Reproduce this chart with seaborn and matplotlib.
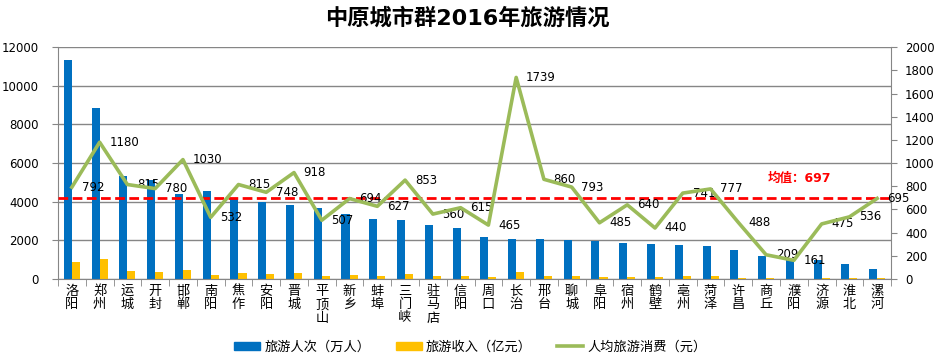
import seaborn as sns
import matplotlib.pyplot as plt
import numpy as np
import pandas as pd
from matplotlib.patches import Patch
from matplotlib.lines import Line2D

cities = ["洛阳", "郑州", "运城", "开封", "邯郸", "南阳", "焦作", "安阳", "晋城", "平顶山",
          "新乡", "蚌埠", "三门峡", "驻马店", "信阳", "周口", "长治", "邢台", "聊城", "阜阳",
          "宿州", "鹤壁", "亳州", "菏泽", "许昌", "商丘", "濮阳", "济源", "淮北", "漯河"]
visitors = [11350, 8850, 5320, 5110, 4400, 4560, 4150, 3980, 3840, 3700,
            3340, 3130, 3030, 2770, 2660, 2190, 2090, 2090, 2030, 1980,
            1880, 1820, 1760, 1710, 1500, 1190, 980, 1000, 780, 520]
income = [900, 1050, 430, 380, 480, 225, 330, 280, 330, 175,
          225, 175, 270, 170, 170, 110, 370, 170, 165, 90,
          120, 80, 130, 130, 75, 30, 20, 45, 40, 35]
spend = [792, 1180, 815, 780, 1030, 532, 815, 748, 918, 507,
         694, 627, 853, 560, 615, 465, 1739, 860, 793, 485,
         640, 440, 741, 777, 488, 209, 161, 475, 536, 695]
mean_spend = 697

names = ["旅游人次（万人）", "旅游收入（亿元）", "人均旅游消费（元）"]
blue, yellow, green, grey = "#0070C0", "#FFC000", "#9BBB59", "#868686"

plt.rcParams['font.family'] = ['DejaVu Sans', 'Noto Sans CJK SC']

df = pd.DataFrame({
    "城市": cities * 2,
    "数值": visitors + income,
    "指标": [names[0]] * len(cities) + [names[1]] * len(cities),
})

fig = plt.figure(figsize=(9.35, 3.6), dpi=100)
ax = fig.add_axes([0.062, 0.225, 0.891, 0.644])

sns.barplot(data=df, x="城市", y="数值", hue="指标", palette=[blue, yellow],
            width=0.58, saturation=1, legend=False, ax=ax, zorder=2)
ax.set_ylim(0, 12000)
ax.set_yticks(range(0, 12001, 2000))
ax.yaxis.grid(True, color=grey, lw=1)
ax.set_axisbelow(True)
ax.set_xlabel("")
ax.set_ylabel("")
ax.set_xticks(range(len(cities)))
ax.set_xticklabels(["\n".join(c) for c in cities], fontsize=9.5, linespacing=1.05,
                   family=['Noto Sans CJK SC'])
ax.set_xticks(np.arange(-0.5, len(cities), 1), minor=True)
ax.tick_params(axis="x", which="major", length=0, pad=4)
ax.tick_params(axis="x", which="minor", length=5, color=grey)
ax.tick_params(axis="y", labelsize=8.5, length=4, color=grey, pad=10)
for s in ["top", "right"]:
    ax.spines[s].set_visible(False)
for s in ["left", "bottom"]:
    ax.spines[s].set_color(grey)

ax2 = ax.twinx()
sns.lineplot(x=np.arange(len(cities)), y=spend, color=green, lw=2.6, ax=ax2, zorder=4)
ax2.axhline(mean_spend, color="#FF0000", ls=(0, (3.5, 1.6)), lw=2, zorder=3)
ax2.set_ylim(0, 2000)
ax2.set_yticks(range(0, 2001, 200))
ax2.tick_params(axis="y", labelsize=8.5, length=4, color=grey, pad=6)
for s in ["top", "left", "bottom"]:
    ax2.spines[s].set_visible(False)
ax2.spines["right"].set_color(grey)
for i, v in enumerate(spend):
    ax2.annotate(str(v), (i, v), xytext=(7, 0), textcoords="offset points",
                 ha="left", va="center", fontsize=8.5)
ax2.text(26.2, 870, f"均值：{mean_spend}", color="#FF0000", fontweight="bold",
         fontsize=9, ha="center", va="center")
ax.set_xlim(-0.5, len(cities) - 0.5)

fig.suptitle("中原城市群2016年旅游情况", x=0.5, y=0.98, fontsize=16, fontweight="bold")

handles = [Patch(color=blue), Patch(color=yellow), Line2D([], [], color=green, lw=2.6)]
fig.legend(handles, names, loc="center", bbox_to_anchor=(0.503, 1 - 347 / 360), ncol=3,
           frameon=False, fontsize=9.5, handlelength=2.0, handleheight=0.55,
           columnspacing=1.9, handletextpad=0.3)

fig.savefig("out.png", dpi=100)
